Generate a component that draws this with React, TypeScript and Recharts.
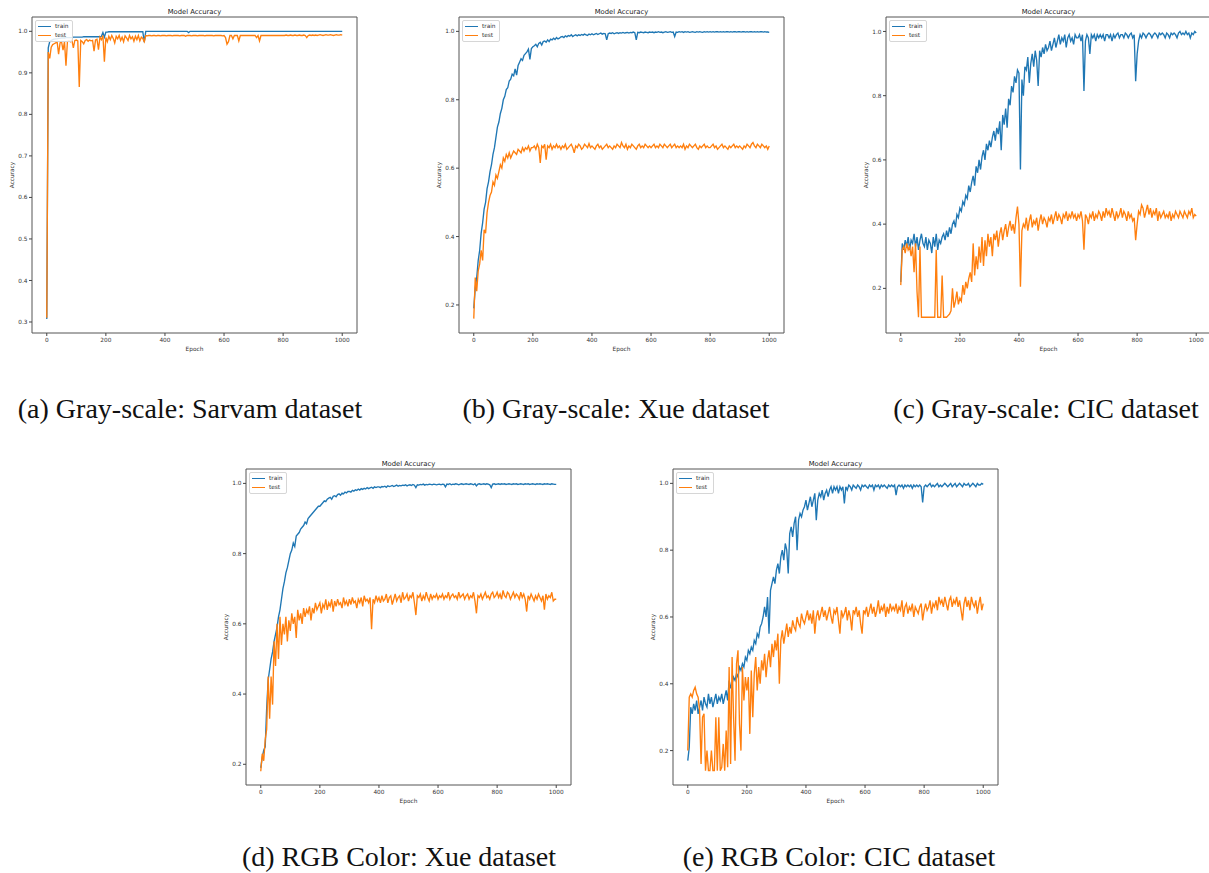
import React from 'react';
import { LineChart, Line, XAxis, YAxis, ReferenceArea, Legend } from 'recharts';

const TRAIN_COLOR = '#1f77b4';
const TEST_COLOR = '#ff7f0e';

// every 5th epoch is plotted
const epochs = Array.from({ length: 201 }, (_, i) => i * 5);
const epochTicks = [0, 200, 400, 600, 800, 1000];
const seriesOrder = ['train', 'test'];

// (a) Gray-scale: Sarvam
const sarvamGrayTrain = [
  .307,.96,.975,.978,.98,.981,.982,.982,.983,.983,.984,.984,.984,.985,.985,.985,.985,.985,.986,.986,
  .986,.986,.986,.986,.986,.987,.987,.987,.987,.987,.987,.987,.987,.987,.987,.987,.987,.988,.997,.986,
  .998,.998,.999,.999,.999,.999,.999,.999,.999,.999,.999,.999,.999,.999,.999,.999,.999,.999,.999,.999,
  .999,.999,.999,.999,.999,.999,.974,1,1,1,1,1,1,1,1,1,1,1,1,1,
  1,1,1,1,1,1,1,1,1,1,1,1,1,1,1,1,.997,1,1,1,
  1,1,1,1,1,1,1,1,1,1,1,1,1,1,1,1,1,1,1,1,
  1,1,1,1,1,1,1,1,1,1,1,1,1,1,1,1,1,1,1,1,
  1,1,1,1,1,1,1,1,1,1,1,1,1,1,1,1,1,1,1,1,
  1,1,1,1,1,1,1,1,1,1,1,1,1,1,1,1,1,1,1,1,
  1,1,1,1,1,1,1,1,1,1,1,1,1,1,1,1,1,1,1,1,
  1,
];
const sarvamGrayTest = [
  .31,.95,.935,.962,.968,.97,.972,.975,.945,.972,.975,.955,.975,.917,.976,.978,.975,.979,.96,.978,
  .979,.977,.866,.978,.975,.97,.978,.98,.976,.979,.977,.978,.952,.979,.981,.956,.986,.98,.99,.927,
  .985,.975,.988,.98,.99,.983,.972,.988,.982,.99,.978,.986,.975,.989,.984,.978,.99,.982,.987,.976,
  .988,.98,.99,.977,.986,.983,.975,.99,.989,.99,.99,.989,.99,.99,.989,.99,.99,.989,.99,.99,
  .99,.989,.99,.99,.99,.989,.99,.99,.99,.99,.989,.99,.99,.99,.988,.99,.99,.99,.989,.99,
  .99,.99,.989,.99,.99,.99,.99,.989,.99,.99,.99,.99,.99,.989,.99,.99,.99,.99,.99,.989,
  .99,.985,.969,.975,.99,.99,.982,.99,.99,.99,.977,.99,.99,.99,.99,.99,.99,.99,.99,.99,
  .99,.99,.985,.99,.977,.99,.99,.99,.99,.99,.99,.99,.99,.99,.99,.99,.99,.99,.99,.99,
  .99,.99,.991,.99,.99,.991,.99,.99,.991,.99,.99,.991,.99,.99,.991,.99,.985,.99,.991,.99,
  .991,.99,.991,.99,.991,.992,.991,.99,.991,.992,.991,.991,.992,.991,.99,.991,.992,.991,.991,.992,
  .991,
];

// (b) Gray-scale: Xue
const xueGrayTrain = [
  .19,.25,.28,.33,.36,.41,.44,.48,.50,.54,.56,.59,.61,.64,.66,.69,.72,.735,.76,.775,
  .80,.81,.83,.835,.855,.86,.875,.87,.89,.872,.90,.91,.92,.915,.93,.935,.94,.948,.918,.95,
  .955,.958,.962,.955,.965,.968,.96,.97,.972,.968,.975,.97,.977,.975,.98,.976,.982,.978,.98,.984,
  .985,.982,.987,.984,.988,.986,.99,.985,.988,.99,.987,.99,.988,.991,.989,.992,.99,.988,.992,.99,
  .993,.99,.992,.994,.991,.993,.995,.992,.994,.993,.975,.993,.995,.994,.996,.993,.995,.996,.994,.996,
  .995,.997,.995,.996,.997,.995,.997,.996,.998,.996,.975,.997,.996,.998,.997,.996,.998,.997,.996,.998,
  .997,.998,.996,.998,.997,.999,.997,.998,.996,.998,.999,.997,.998,.999,.997,.998,.985,.998,.997,.999,
  .998,.999,.997,.999,.998,.999,.997,.998,.999,.998,.997,.999,.998,.999,.998,.997,.999,.998,.999,.998,
  .999,.998,.999,.998,.999,.999,.998,.999,.998,.999,.998,.999,.999,.998,.999,.998,.999,.999,.998,.999,
  .999,.998,.999,.999,.998,.999,.998,.999,.999,.998,.999,.998,.999,.998,.999,.999,.998,.999,.998,.998,
  .997,
];
const xueGrayTest = [
  .16,.28,.24,.30,.32,.36,.33,.42,.41,.47,.50,.52,.53,.56,.55,.58,.57,.59,.61,.60,
  .63,.62,.64,.63,.645,.63,.64,.65,.645,.64,.655,.65,.645,.66,.65,.66,.655,.665,.65,.66,
  .66,.665,.655,.67,.66,.615,.665,.66,.67,.625,.665,.66,.67,.655,.665,.66,.67,.66,.665,.655,
  .665,.66,.67,.655,.66,.665,.67,.66,.645,.665,.66,.67,.665,.655,.66,.67,.665,.66,.672,.66,
  .665,.66,.655,.665,.67,.66,.665,.655,.66,.665,.67,.66,.665,.66,.655,.665,.66,.67,.665,.66,
  .675,.665,.66,.67,.655,.665,.66,.67,.665,.66,.655,.665,.67,.66,.665,.66,.67,.665,.66,.665,
  .66,.665,.67,.66,.665,.66,.67,.665,.66,.67,.665,.66,.665,.67,.66,.665,.67,.66,.665,.66,
  .665,.66,.67,.655,.665,.66,.67,.665,.66,.665,.67,.66,.655,.665,.66,.665,.67,.66,.665,.66,
  .66,.665,.67,.66,.665,.655,.66,.665,.67,.66,.665,.66,.655,.665,.66,.665,.67,.66,.665,.66,
  .665,.66,.655,.665,.66,.67,.665,.66,.67,.675,.665,.66,.67,.665,.66,.67,.665,.66,.665,.655,
  .665,
];

// (c) Gray-scale: CIC
const cicGrayTrain = [
  .22,.34,.32,.35,.33,.36,.32,.35,.34,.37,.33,.36,.32,.35,.37,.34,.33,.36,.32,.35,
  .34,.31,.36,.33,.37,.32,.35,.34,.36,.37,.35,.38,.36,.39,.37,.40,.41,.39,.43,.42,
  .45,.44,.47,.46,.49,.48,.52,.50,.53,.55,.52,.58,.56,.60,.57,.61,.63,.60,.65,.63,
  .66,.64,.67,.69,.66,.70,.68,.72,.63,.74,.71,.76,.70,.79,.77,.83,.81,.86,.84,.88,
  .87,.57,.85,.80,.89,.88,.92,.84,.90,.93,.89,.94,.91,.83,.94,.92,.95,.93,.96,.94,
  .95,.97,.94,.96,.98,.95,.97,.99,.96,.98,.97,.99,.95,.98,.99,.97,.98,.96,.99,.98,
  .98,.99,.97,.99,.815,.97,.99,.98,.93,.99,.98,.99,.97,.99,.98,.99,.98,.99,.97,.99,
  .99,.98,.99,.97,.99,.98,.99,.995,.98,.99,.99,.98,.995,.99,.98,.99,.995,.98,.99,.845,
  .93,.97,.99,.98,.995,.99,.98,.99,.995,.99,.98,.99,.995,.99,.98,.995,.99,.995,.99,.98,
  .995,.99,.98,.995,.99,.995,.99,.98,.995,1,.99,.995,.99,1,.99,.995,.98,.995,.99,1,
  .995,
];
const cicGrayTest = [
  .21,.32,.33,.31,.34,.32,.33,.30,.33,.25,.34,.19,.11,.33,.11,.11,.11,.11,.11,.11,
  .11,.11,.11,.11,.32,.11,.11,.11,.24,.11,.11,.11,.115,.12,.13,.20,.14,.16,.19,.15,
  .17,.16,.21,.18,.22,.20,.23,.25,.22,.34,.24,.30,.26,.33,.28,.36,.27,.35,.30,.37,
  .33,.36,.30,.37,.35,.38,.33,.37,.39,.35,.38,.40,.36,.39,.41,.38,.40,.37,.42,.455,
  .40,.205,.38,.40,.39,.42,.38,.41,.43,.39,.41,.40,.42,.38,.41,.43,.40,.42,.41,.39,
  .42,.41,.43,.40,.42,.44,.41,.43,.42,.40,.43,.42,.44,.41,.43,.42,.44,.42,.43,.41,
  .43,.42,.44,.41,.32,.43,.42,.40,.43,.42,.44,.41,.43,.42,.44,.43,.41,.44,.42,.45,
  .43,.44,.42,.45,.43,.41,.44,.42,.43,.45,.42,.44,.43,.41,.44,.42,.43,.41,.42,.35,
  .40,.44,.43,.46,.45,.42,.44,.46,.43,.45,.42,.44,.43,.45,.41,.44,.42,.43,.44,.42,
  .43,.42,.44,.41,.43,.42,.44,.43,.42,.44,.43,.42,.44,.43,.42,.44,.43,.45,.42,.43,
  .425,
];

// (d) RGB Color: Xue
const xueRgbTrain = [
  .19,.22,.24,.25,.36,.44,.47,.50,.52,.55,.57,.59,.62,.64,.67,.70,.72,.745,.76,.78,
  .80,.81,.83,.82,.85,.855,.86,.87,.875,.88,.89,.885,.90,.905,.91,.915,.92,.925,.93,.935,
  .935,.94,.945,.95,.948,.955,.958,.96,.955,.963,.965,.962,.968,.97,.966,.972,.97,.975,.973,.977,
  .977,.975,.98,.978,.982,.98,.984,.981,.985,.983,.986,.984,.988,.985,.987,.989,.986,.99,.988,.99,
  .99,.988,.991,.99,.992,.989,.993,.991,.992,.994,.991,.993,.995,.992,.994,.993,.995,.994,.996,.993,
  .995,.996,.994,.997,.995,.988,.996,.995,.997,.996,.998,.995,.997,.996,.998,.997,.996,.998,.997,.996,
  .997,.998,.996,.998,.997,.99,.998,.997,.999,.996,.998,.997,.999,.998,.996,.998,.999,.997,.998,.999,
  .998,.997,.999,.998,.996,.999,.993,.998,.999,.997,.998,.999,.997,.999,.998,.996,.988,.998,.999,.997,
  .998,.999,.997,.999,.998,.999,.997,.998,.999,.998,.997,.999,.998,.999,.997,.998,.999,.998,.997,.999,
  .998,.999,.997,.998,.999,.998,.997,.999,.998,.999,.998,.997,.999,.998,.999,.998,.997,.999,.998,.997,
  .997,
];
const xueRgbTest = [
  .18,.23,.21,.27,.30,.45,.33,.45,.37,.55,.48,.60,.50,.62,.54,.60,.57,.62,.55,.61,
  .58,.63,.60,.62,.56,.64,.61,.63,.60,.645,.62,.64,.63,.65,.61,.645,.63,.66,.64,.65,
  .66,.63,.655,.645,.67,.64,.66,.65,.67,.635,.665,.65,.67,.655,.66,.645,.675,.655,.665,.65,
  .67,.655,.675,.66,.665,.645,.67,.66,.675,.65,.68,.665,.67,.66,.675,.585,.67,.66,.68,.665,
  .675,.66,.68,.665,.67,.685,.66,.675,.68,.655,.67,.685,.665,.675,.68,.66,.69,.67,.675,.685,
  .665,.68,.675,.69,.66,.625,.68,.675,.685,.665,.68,.67,.69,.675,.665,.685,.67,.68,.675,.685,
  .67,.68,.675,.685,.67,.68,.675,.69,.67,.68,.685,.675,.68,.67,.69,.675,.68,.685,.67,.68,
  .685,.67,.68,.675,.69,.665,.63,.68,.675,.685,.67,.68,.69,.675,.68,.67,.685,.69,.675,.68,
  .69,.675,.685,.67,.695,.68,.675,.69,.685,.67,.68,.69,.675,.685,.68,.67,.69,.675,.685,.67,
  .635,.68,.67,.685,.675,.665,.68,.67,.685,.675,.665,.68,.64,.685,.67,.68,.675,.69,.665,.67,
  .67,
];

// (e) RGB Color: CIC
const cicRgbTrain = [
  .17,.21,.33,.31,.34,.32,.35,.31,.33,.35,.32,.36,.34,.33,.37,.34,.36,.33,.35,.37,
  .34,.36,.35,.37,.34,.36,.38,.35,.41,.39,.40,.42,.41,.43,.42,.45,.44,.46,.45,.48,
  .47,.50,.49,.51,.50,.53,.52,.55,.54,.57,.58,.60,.63,.60,.66,.55,.68,.70,.72,.70,
  .74,.76,.73,.78,.80,.77,.82,.80,.73,.85,.87,.84,.88,.90,.80,.89,.91,.90,.92,.93,
  .95,.92,.94,.96,.93,.95,.97,.89,.95,.97,.96,.98,.95,.97,.98,.96,.98,.99,.97,.99,
  .98,.99,.97,.99,.98,.99,.94,.99,.98,.995,.99,.98,.995,.99,.985,.995,.99,.98,.995,.99,
  .995,.99,.985,.995,.99,.995,.98,.995,.99,.995,.985,.995,.99,.995,.99,.985,.995,.99,.995,.99,
  .995,.965,.99,.995,.99,.995,.985,.995,.99,.995,.99,.995,.985,.995,.99,.995,.99,.995,.99,.943,
  .99,.995,.99,.995,1,.99,.995,.99,.995,1,.99,.995,.99,.995,1,.995,.99,.995,1,.99,
  .995,1,.99,.995,1,.995,.99,1,.995,.995,1,.99,.995,1,.995,.99,1,.995,.995,1,
  .997,
];
const cicRgbTest = [
  .20,.36,.37,.36,.38,.39,.37,.36,.32,.16,.30,.31,.14,.20,.14,.14,.20,.14,.14,.30,
  .14,.30,.14,.15,.22,.14,.26,.15,.45,.16,.48,.30,.17,.46,.50,.28,.20,.45,.35,.42,
  .38,.42,.25,.44,.30,.43,.48,.38,.45,.40,.47,.44,.49,.42,.47,.50,.45,.52,.48,.53,
  .50,.55,.40,.53,.56,.52,.55,.58,.54,.57,.55,.59,.57,.56,.60,.58,.57,.61,.59,.58,
  .60,.62,.59,.61,.58,.62,.55,.60,.62,.59,.61,.63,.60,.62,.59,.61,.63,.60,.58,.62,
  .61,.63,.59,.55,.62,.60,.61,.63,.59,.62,.60,.56,.62,.61,.63,.60,.62,.58,.55,.62,
  .61,.63,.60,.62,.64,.61,.63,.60,.62,.65,.61,.63,.62,.64,.60,.63,.61,.64,.62,.63,
  .62,.64,.61,.63,.62,.65,.60,.63,.64,.61,.63,.62,.64,.60,.63,.62,.61,.63,.64,.59,
  .62,.64,.62,.63,.65,.61,.64,.63,.65,.62,.66,.64,.65,.63,.66,.64,.62,.65,.66,.63,
  .65,.64,.66,.63,.65,.62,.59,.64,.66,.63,.65,.62,.66,.64,.63,.65,.61,.64,.66,.62,
  .64,
];

const tickFive = [0.2, 0.4, 0.6, 0.8, 1.0];
const tickSarvam = [0.3, 0.4, 0.5, 0.6, 0.7, 0.8, 0.9, 1.0];

const PLOT_W = 325;
const PLOT_H = 316;
const PAD_L = 40;
const PAD_T = 20;
const PAD_R = 10;
const PAD_B = 26;
const FONT = '"DejaVu Sans", sans-serif';

function LegendBox({ payload }: any) {
  // keep matplotlib's plotting order (train, then test)
  const items = [...(payload || [])].sort(
    (a: any, b: any) => seriesOrder.indexOf(a.value) - seriesOrder.indexOf(b.value)
  );
  return (
    <div
      style={{
        border: '1px solid #d6d6d6',
        borderRadius: 2,
        background: 'rgba(255,255,255,0.85)',
        padding: '1px 3px 1px 2px',
        fontFamily: FONT,
        fontSize: 5.8,
        lineHeight: '9px',
        color: '#333',
      }}
    >
      {items.map((entry: any) => (
        <div key={entry.value} style={{ display: 'flex', alignItems: 'center' }}>
          <span
            style={{
              display: 'inline-block',
              width: 13,
              height: 0,
              borderTop: `1.4px solid ${entry.color}`,
              marginRight: 4,
            }}
          />
          {entry.value}
        </div>
      ))}
    </div>
  );
}

interface PanelProps {
  left: number;
  top: number;
  yDomain: [number, number];
  yTicks: number[];
  train: number[];
  test: number[];
}

function AccuracyPanel({ left, top, yDomain, yTicks, train, test }: PanelProps) {
  const data = epochs.map((epoch, i) => ({ epoch, train: train[i], test: test[i] }));
  const tickStyle = { fontSize: 5.8, fill: '#333', fontFamily: FONT };

  return (
    <div style={{ position: 'absolute', left: left - PAD_L, top: top - PAD_T }}>
      <LineChart
        width={PAD_L + PLOT_W + PAD_R}
        height={PAD_T + PLOT_H + PAD_B}
        data={data}
        margin={{ top: PAD_T, right: PAD_R, bottom: 0, left: 0 }}
      >
        <XAxis
          type="number"
          dataKey="epoch"
          domain={[-50, 1050]}
          ticks={epochTicks}
          allowDataOverflow
          height={PAD_B}
          axisLine={false}
          tickSize={3}
          tickMargin={1.5}
          tickLine={{ stroke: '#444' }}
          tick={tickStyle}
          label={{ value: 'Epoch', position: 'insideBottom', offset: 8, style: { fontSize: 5.8, fill: '#333', fontFamily: FONT } }}
        />
        <YAxis
          type="number"
          domain={yDomain}
          ticks={yTicks}
          allowDataOverflow
          width={PAD_L}
          axisLine={false}
          tickSize={3}
          tickMargin={1.5}
          tickLine={{ stroke: '#444' }}
          tick={tickStyle}
          tickFormatter={(v: number) => v.toFixed(1)}
          label={{ value: 'Accuracy', angle: -90, position: 'center', style: { fontSize: 5.8, fill: '#333', fontFamily: FONT } }}
        />
        <ReferenceArea
          x1={-50}
          x2={1050}
          y1={yDomain[0]}
          y2={yDomain[1]}
          fill="none"
          stroke="#555"
          strokeWidth={1}
          label={{ value: 'Model Accuracy', position: 'top', offset: 3, style: { fontSize: 6.8, fill: '#222', fontFamily: FONT } }}
        />
        <Legend
          layout="horizontal"
          verticalAlign="middle"
          align="center"
          wrapperStyle={{ left: PAD_L + 3, top: PAD_T + 3, width: 'auto', height: 'auto' }}
          content={<LegendBox />}
        />
        <Line type="linear" dataKey="train" name="train" stroke={TRAIN_COLOR} strokeWidth={1.35} dot={false} isAnimationActive={false} />
        <Line type="linear" dataKey="test" name="test" stroke={TEST_COLOR} strokeWidth={1.35} dot={false} isAnimationActive={false} />
      </LineChart>
    </div>
  );
}

function Caption({ text, center, baseline }: { text: string; center: number; baseline: number }) {
  return (
    <div
      style={{
        position: 'absolute',
        left: center - 220,
        top: baseline - 23.4,
        width: 440,
        textAlign: 'center',
        fontFamily: '"Liberation Serif", serif',
        fontSize: 28,
        lineHeight: '28px',
        color: '#111',
        whiteSpace: 'nowrap',
      }}
    >
      {text}
    </div>
  );
}

export default function App() {
  return (
    <div style={{ position: 'absolute', left: 0, top: 0, width: 1209, height: 873, overflow: 'hidden', background: '#fff' }}>
      <AccuracyPanel left={32} top={17} yDomain={[0.2735, 1.0345]} yTicks={tickSarvam} train={sarvamGrayTrain} test={sarvamGrayTest} />
      <AccuracyPanel left={459} top={17} yDomain={[0.118, 1.042]} yTicks={tickFive} train={xueGrayTrain} test={xueGrayTest} />
      <AccuracyPanel left={886} top={17} yDomain={[0.061, 1.045]} yTicks={tickFive} train={cicGrayTrain} test={cicGrayTest} />
      <AccuracyPanel left={246} top={469} yDomain={[0.141, 1.041]} yTicks={tickFive} train={xueRgbTrain} test={xueRgbTest} />
      <AccuracyPanel left={673} top={469} yDomain={[0.097, 1.043]} yTicks={tickFive} train={cicRgbTrain} test={cicRgbTest} />

      <Caption text="(a) Gray-scale: Sarvam dataset" center={190} baseline={418} />
      <Caption text="(b) Gray-scale: Xue dataset" center={616} baseline={418} />
      <Caption text="(c) Gray-scale: CIC dataset" center={1046} baseline={418} />
      <Caption text="(d) RGB Color: Xue dataset" center={399} baseline={866} />
      <Caption text="(e) RGB Color: CIC dataset" center={839} baseline={866} />
    </div>
  );
}
